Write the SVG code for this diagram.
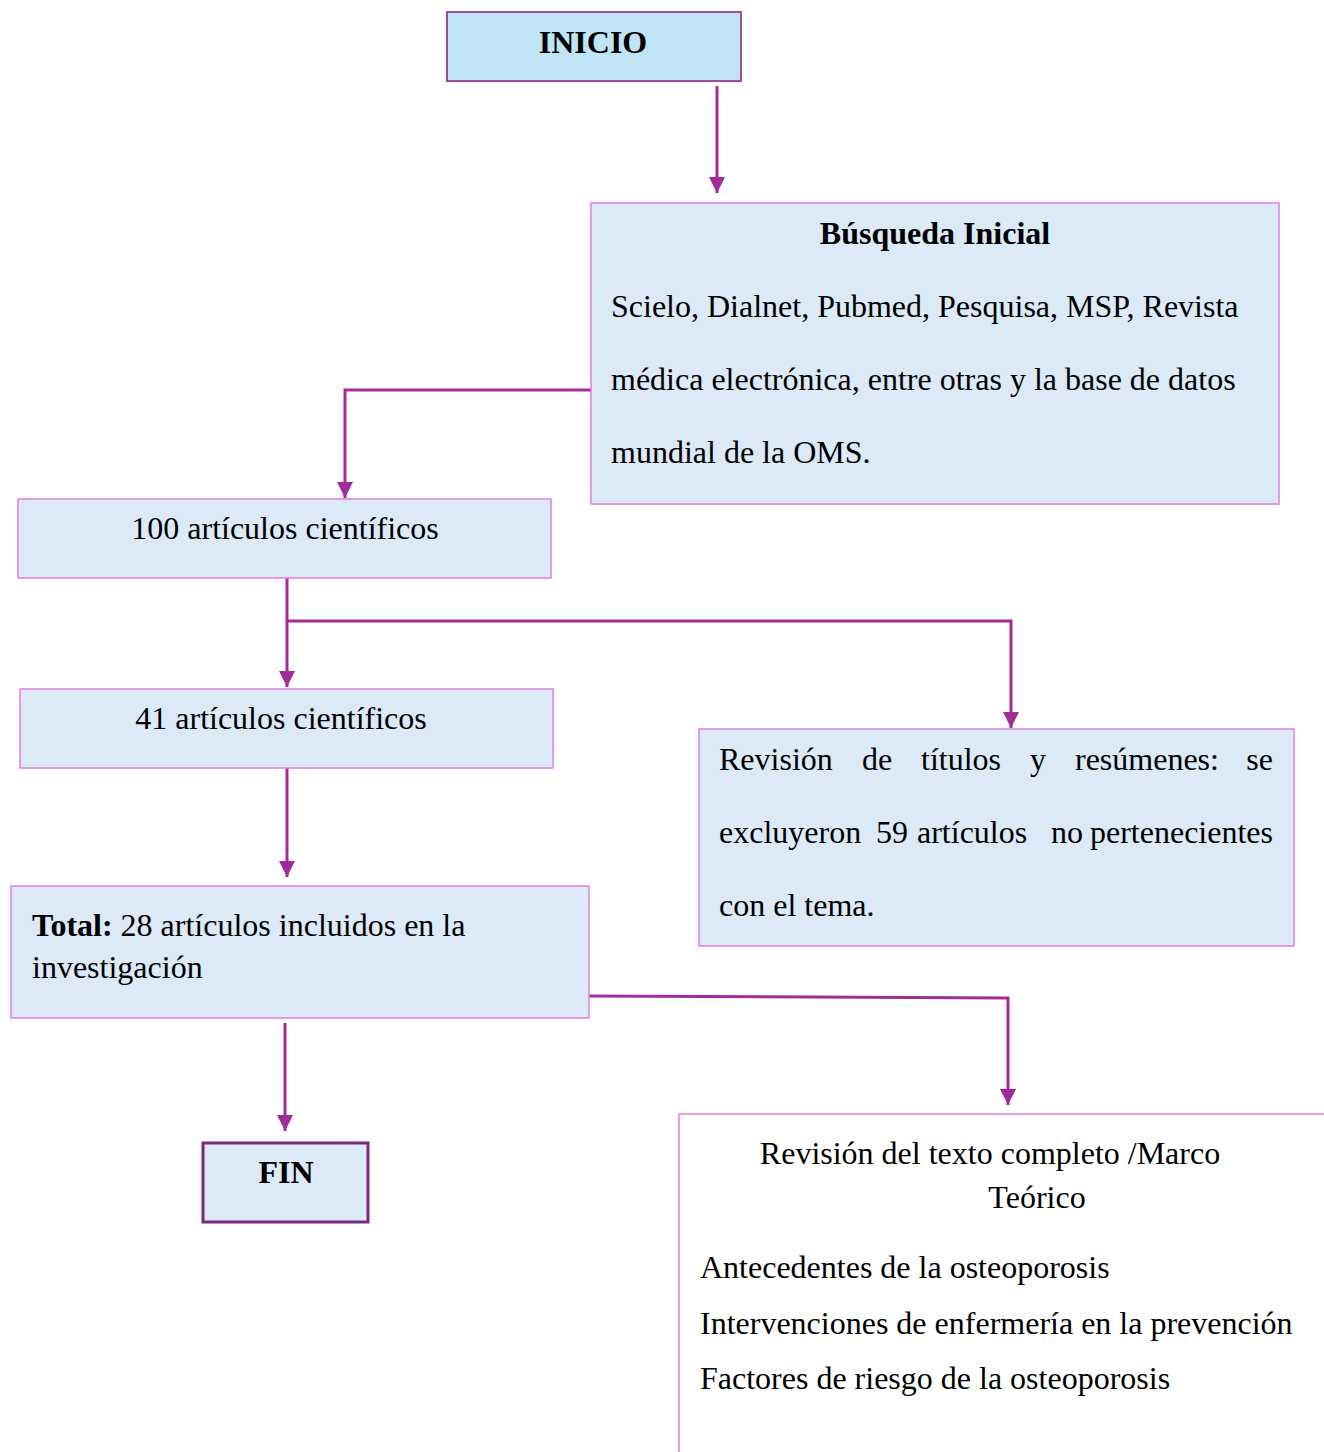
<svg xmlns="http://www.w3.org/2000/svg" width="1324" height="1452" viewBox="0 0 1324 1452">
<style>
text{font-family:"Liberation Serif","Times New Roman",serif;font-size:32px;fill:#000}
.b{font-weight:bold}
.box{fill:#dce9f6;stroke:#e07ee0;stroke-width:1.5}
.c{fill:none;stroke:#a02c9a;stroke-width:3}
</style>
<defs>
<marker id="ah" markerUnits="userSpaceOnUse" markerWidth="16" markerHeight="16" viewBox="0 0 16 16" refX="16" refY="8" orient="auto">
<path d="M0 0 L16 8 L0 16 Z" fill="#a02c9a"/>
</marker>
</defs>
<g id="connectors">
<path class="c" d="M717 86 V193" marker-end="url(#ah)"/>
<path class="c" d="M591 390 H345 V498" marker-end="url(#ah)"/>
<path class="c" d="M287 578 V687" marker-end="url(#ah)"/>
<path class="c" d="M287 621 H1011 V728" marker-end="url(#ah)"/>
<path class="c" d="M287 768 V877" marker-end="url(#ah)"/>
<path class="c" d="M589 996 L1008 998 V1105" marker-end="url(#ah)"/>
<path class="c" d="M285 1023 V1131" marker-end="url(#ah)"/>
</g>
<g id="inicio">
<rect x="447" y="12" width="294" height="69" fill="#c0e4f4" stroke="#9b4d9b" stroke-width="2"/>
<text x="593" y="53" text-anchor="middle" class="b">INICIO</text>
</g>
<g id="busqueda">
<rect class="box" x="591" y="203" width="688" height="301"/>
<text x="935" y="244" text-anchor="middle" class="b">Búsqueda Inicial</text>
<text x="611" y="317">Scielo, Dialnet, Pubmed, Pesquisa, MSP, Revista</text>
<text x="611" y="390">médica electrónica, entre otras y la base de datos</text>
<text x="611" y="463">mundial de la OMS.</text>
</g>
<g id="n100">
<rect class="box" x="18" y="499" width="533" height="79"/>
<text x="285" y="539" text-anchor="middle">100 artículos científicos</text>
</g>
<g id="n41">
<rect class="box" x="20" y="689" width="533" height="79"/>
<text x="281" y="729" text-anchor="middle">41 artículos científicos</text>
</g>
<g id="revision">
<rect class="box" x="699" y="729" width="595" height="217"/>
<text y="770"><tspan x="719">Revisión</tspan><tspan x="862">de</tspan><tspan x="921">títulos</tspan><tspan x="1030">y</tspan><tspan x="1075">resúmenes:</tspan></text>
<text x="1273" y="770" text-anchor="end">se</text>
<text y="843"><tspan x="719">excluyeron</tspan><tspan x="876">59</tspan><tspan x="917">artículos</tspan><tspan x="1051">no</tspan></text>
<text x="1273" y="843" text-anchor="end">pertenecientes</text>
<text x="719" y="916">con el tema.</text>
</g>
<g id="total">
<rect class="box" x="11" y="886" width="578" height="132"/>
<text x="32" y="936"><tspan class="b">Total:</tspan> 28 artículos incluidos en la</text>
<text x="32" y="978">investigación</text>
</g>
<g id="fin">
<rect x="203" y="1143" width="165" height="79" fill="#dce9f6" stroke="#7a2a7a" stroke-width="3"/>
<text x="286" y="1183" text-anchor="middle" class="b">FIN</text>
</g>
<g id="marco">
<path d="M679 1452 V1114 H1324" fill="none" stroke="#e07ee0" stroke-width="1.5"/>
<text x="990" y="1164" text-anchor="middle">Revisión del texto completo /Marco</text>
<text x="1037" y="1208" text-anchor="middle">Teórico</text>
<text x="700" y="1278">Antecedentes de la osteoporosis</text>
<text x="700" y="1334">Intervenciones de enfermería en la prevención</text>
<text x="700" y="1389">Factores de riesgo de la osteoporosis</text>
</g>
</svg>
